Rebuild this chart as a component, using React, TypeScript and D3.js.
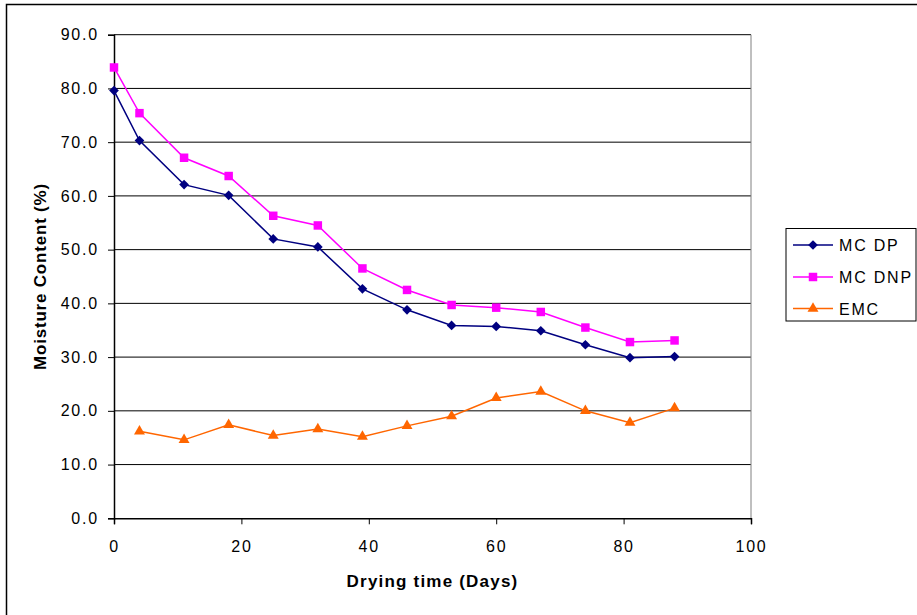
import React, { useRef, useEffect } from 'react';
import * as d3 from 'd3';

// Drying time (days) for each reading
const days = [0, 4, 11, 18, 25, 32, 39, 46, 53, 60, 67, 74, 81, 88];
const mcDP = [79.6, 70.3, 62.1, 60.1, 52.0, 50.5, 42.7, 38.8, 35.9, 35.7, 34.9, 32.3, 29.9, 30.1];
const mcDNP = [83.9, 75.4, 67.1, 63.7, 56.3, 54.5, 46.5, 42.5, 39.7, 39.2, 38.4, 35.5, 32.8, 33.1];
// EMC has no reading at day 0
const emcDays = [4, 11, 18, 25, 32, 39, 46, 53, 60, 67, 74, 81, 88];
const emc = [16.2, 14.6, 17.4, 15.4, 16.6, 15.2, 17.2, 19.0, 22.4, 23.6, 20.0, 17.8, 20.5];

const yTicks = [0, 10, 20, 30, 40, 50, 60, 70, 80, 90];
const xTicks = [0, 20, 40, 60, 80, 100];

const seriesNames = ['MC DP', 'MC DNP', 'EMC'];
const seriesColors = ['#000080', '#FF00FF', '#FF6600'];

const W = 917;
const H = 615;

const App: React.FC = () => {
    const svgRef = useRef<SVGSVGElement>(null);

    useEffect(() => {
        if (!svgRef.current) return;
        const svg = d3.select(svgRef.current);
        svg.selectAll("*").remove();

        const font = "Arial, 'Liberation Sans', sans-serif";
        const left = 114, right = 751, top = 34.7, bottom = 518.3;

        const x = d3.scaleLinear().domain([0, 100]).range([left, right]);
        const y = d3.scaleLinear().domain([0, 90]).range([bottom, top]);

        // outer chart border (runs off the right/bottom of the picture)
        svg.append("rect")
            .attr("x", 6.5).attr("y", 4.5)
            .attr("width", W + 20).attr("height", H + 20)
            .attr("fill", "white")
            .attr("stroke", "black")
            .attr("stroke-width", 1.5);

        // gridlines
        svg.append("g")
            .selectAll("line")
            .data(yTicks.slice(1))
            .join("line")
            .attr("x1", left).attr("x2", right)
            .attr("y1", d => y(d)).attr("y2", d => y(d))
            .attr("stroke", "#000")
            .attr("stroke-width", 1);

        // right border of plot area
        svg.append("line")
            .attr("x1", right).attr("x2", right)
            .attr("y1", top).attr("y2", bottom)
            .attr("stroke", "#808080");

        // y axis
        const yAxis = svg.append("g")
            .attr("transform", `translate(${left},0)`)
            .call(d3.axisLeft(y).tickValues(yTicks).tickFormat(d3.format(".1f")).tickSize(6).tickPadding(9));
        yAxis.select(".domain").attr("stroke", "#000").attr("stroke-width", 1.5);
        yAxis.selectAll("text")
            .attr("font-family", font).attr("font-size", 16)
            .attr("letter-spacing", 1.8).attr("fill", "#000");

        // x axis
        const xAxis = svg.append("g")
            .attr("transform", `translate(0,${bottom})`)
            .call(d3.axisBottom(x).tickValues(xTicks).tickSize(6).tickPadding(16));
        xAxis.select(".domain").attr("stroke", "#000").attr("stroke-width", 1.5);
        xAxis.selectAll("text")
            .attr("font-family", font).attr("font-size", 16)
            .attr("letter-spacing", 1.8).attr("fill", "#000");

        // axis titles
        svg.append("text")
            .attr("x", (left + right) / 2).attr("y", 587)
            .attr("text-anchor", "middle")
            .attr("font-family", font).attr("font-size", 17).attr("font-weight", "bold")
            .attr("letter-spacing", 1.2)
            .text("Drying time (Days)");

        svg.append("text")
            .attr("transform", `translate(46,${(top + bottom) / 2}) rotate(-90)`)
            .attr("text-anchor", "middle")
            .attr("font-family", font).attr("font-size", 17).attr("font-weight", "bold")
            .attr("letter-spacing", 0.8)
            .text("Moisture Content (%)");

        const lineGen = d3.line<[number, number]>()
            .x(d => x(d[0])).y(d => y(d[1]));

        const diamond = d3.symbol().type(d3.symbolDiamond2).size(60);
        const square = d3.symbol().type(d3.symbolSquare).size(72);
        const triangle = d3.symbol().type(d3.symbolTriangle).size(52);
        const shapes = [diamond, square, triangle];

        const seriesData: [number, number][][] = [
            days.map((d, i) => [d, mcDP[i]]),
            days.map((d, i) => [d, mcDNP[i]]),
            emcDays.map((d, i) => [d, emc[i]]),
        ];

        // draw EMC first, then DNP, then DP on top
        [2, 1, 0].forEach(si => {
            const g = svg.append("g");
            g.append("path")
                .datum(seriesData[si])
                .attr("d", lineGen)
                .attr("fill", "none")
                .attr("stroke", seriesColors[si])
                .attr("stroke-width", 1.5);
            g.selectAll("path.pt")
                .data(seriesData[si])
                .join("path")
                .attr("class", "pt")
                .attr("transform", d => `translate(${x(d[0])},${y(d[1])})`)
                .attr("d", shapes[si]())
                .attr("fill", seriesColors[si]);
        });

        // legend
        const legend = svg.append("g");
        legend.append("rect")
            .attr("x", 786).attr("y", 228.5)
            .attr("width", 130).attr("height", 92.5)
            .attr("fill", "white").attr("stroke", "black").attr("stroke-width", 1);
        const rowY = [245, 277, 308.5];
        seriesNames.forEach((name, i) => {
            legend.append("line")
                .attr("x1", 793).attr("x2", 833)
                .attr("y1", rowY[i]).attr("y2", rowY[i])
                .attr("stroke", seriesColors[i]).attr("stroke-width", 1.5);
            legend.append("path")
                .attr("transform", `translate(813,${rowY[i]})`)
                .attr("d", shapes[i]())
                .attr("fill", seriesColors[i]);
            legend.append("text")
                .attr("x", 839).attr("y", rowY[i] + 6)
                .attr("font-family", font).attr("font-size", 16)
                .attr("letter-spacing", 1.8)
                .text(name);
        });
    }, []);

    return (
        <svg
            ref={svgRef}
            width={W}
            height={H}
            style={{ position: 'absolute', left: 0, top: 0, display: 'block', background: 'white' }}
        />
    );
};

export default App;
